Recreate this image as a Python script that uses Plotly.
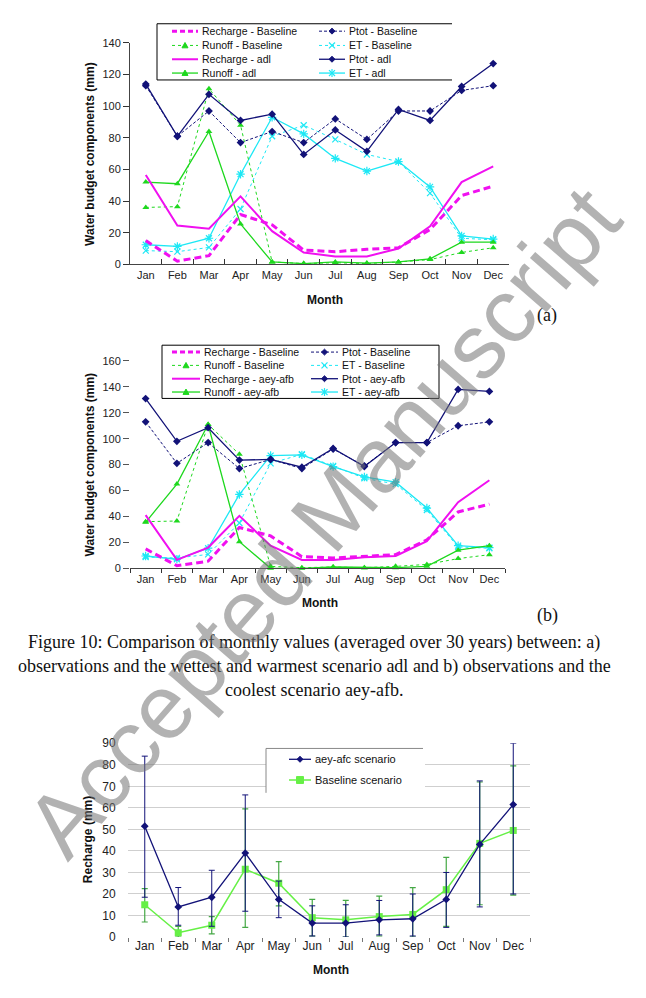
import plotly.graph_objects as go
import numpy as np

W, H = 646, 998
FONT = "Liberation Sans, Arial, sans-serif"
SERIF = "Liberation Serif, Times New Roman, serif"

months = ["Jan", "Feb", "Mar", "Apr", "May", "Jun", "Jul", "Aug", "Sep", "Oct", "Nov", "Dec"]

# ---- Baseline (observations) ----
recharge_baseline = [15, 2, 5.5, 31.5, 25, 9, 8, 9.5, 10.5, 22, 43.5, 49.5]
runoff_baseline = [36, 36.5, 111, 88, 1.5, 0.5, 1, 0.5, 1.5, 3, 7.5, 10.5]
ptot_baseline = [113, 81, 97, 77, 84, 77, 92, 79, 97, 97, 110, 113]
et_baseline = [8.7, 8, 10.7, 35, 81, 88, 79, 69.5, 65, 45, 16.5, 15.5]

# ---- Scenario adl ----
recharge_adl = [56.5, 24.5, 22.5, 43, 21, 7.5, 5, 5, 10, 24, 52, 62]
runoff_adl = [52, 51, 84, 25.5, 1.5, 0.5, 1.5, 0.8, 1.5, 3.5, 14, 14]
ptot_adl = [114, 81, 107.5, 91, 95, 69.5, 85, 71.5, 98, 91, 112.5, 127]
et_adl = [12.4, 11.3, 16.5, 57, 93, 82.5, 67, 59, 65, 49, 18, 16]

# ---- Scenario aey-afb ----
recharge_afb = [41, 6.5, 16, 40.5, 17.5, 6.5, 6.5, 8.5, 9.5, 21, 51, 68]
runoff_afb = [35.5, 65, 111, 20.5, 0, 0, 1, 0.5, 0.5, 1.5, 14, 17.5]
ptot_afb = [131, 98, 108.5, 83.5, 84, 78, 92.5, 78.5, 97, 97, 138, 136.5]
et_afb = [9.5, 7, 15.5, 57, 87, 87.5, 78.5, 70.5, 66.5, 46.5, 17.5, 16]

# ---- Recharge with ranges: aey-afc vs baseline ----
recharge_afc = [51.5, 14, 18.5, 39, 17.5, 6.5, 6.5, 8, 8.5, 17.5, 43, 61.5]
afc_high = [84, 23, 31, 66, 26, 14.5, 15, 17, 20, 30, 72.5, 90]
afc_low = [18.5, 5.5, 5, 12, 9, 0.5, 0, 1, 0.5, 4.5, 14, 20]
base_high = [22.5, 5, 9.5, 59.5, 35, 17.5, 17, 19, 23, 37, 72, 79.5]
base_low = [7, 0, 1.5, 4.5, 14.5, 0.5, 0, 0.5, 0, 5, 15, 19.5]

MAGENTA = "#F010F0"
GREEN = "#1ED81E"
NAVY = "#121278"
CYAN = "#1DE8F5"
LIME = "#66F046"
EGREEN = "#45A845"


def PX(v):
    return v / W


def PY(v):
    return 1 - v / H


fig = go.Figure()


def add_panel(xa, ya, scen, suffix):
    rec, run, pt, et = scen
    common = dict(x=months, xaxis=xa, yaxis=ya, showlegend=False, cliponaxis=False)
    fig.add_trace(go.Scatter(y=et_baseline, name="ET - Baseline", mode="lines+markers",
                             line=dict(color=CYAN, width=1, dash="dot"),
                             marker=dict(symbol="x-thin-open", size=6, color=CYAN, line=dict(width=1.2, color=CYAN)),
                             **common))
    fig.add_trace(go.Scatter(y=et, name="ET - " + suffix, mode="lines+markers",
                             line=dict(color=CYAN, width=1.3),
                             marker=dict(symbol="asterisk-open", size=7, color=CYAN, line=dict(width=1.2, color=CYAN)),
                             **common))
    fig.add_trace(go.Scatter(y=runoff_baseline, name="Runoff - Baseline", mode="lines+markers",
                             line=dict(color=GREEN, width=1, dash="dot"),
                             marker=dict(symbol="triangle-up", size=6, color=GREEN),
                             **common))
    fig.add_trace(go.Scatter(y=run, name="Runoff - " + suffix, mode="lines+markers",
                             line=dict(color=GREEN, width=1.3),
                             marker=dict(symbol="triangle-up", size=6, color=GREEN),
                             **common))
    fig.add_trace(go.Scatter(y=ptot_baseline, name="Ptot - Baseline", mode="lines+markers",
                             line=dict(color=NAVY, width=1, dash="3px,2px"),
                             marker=dict(symbol="diamond", size=6, color=NAVY),
                             **common))
    fig.add_trace(go.Scatter(y=pt, name="Ptot - " + suffix, mode="lines+markers",
                             line=dict(color=NAVY, width=1.3),
                             marker=dict(symbol="diamond", size=6, color=NAVY),
                             **common))
    fig.add_trace(go.Scatter(y=recharge_baseline, name="Recharge - Baseline", mode="lines",
                             line=dict(color=MAGENTA, width=3, dash="7px,4px"),
                             **common))
    fig.add_trace(go.Scatter(y=rec, name="Recharge - " + suffix, mode="lines",
                             line=dict(color=MAGENTA, width=2),
                             **common))


add_panel("x", "y", (recharge_adl, runoff_adl, ptot_adl, et_adl), "adl")
add_panel("x2", "y2", (recharge_afb, runoff_afb, ptot_afb, et_afb), "aey-afb")

# Panel (c)
afc = np.array(recharge_afc, dtype=float)
base = np.array(recharge_baseline, dtype=float)
fig.add_trace(go.Scatter(x=months, y=recharge_baseline, xaxis="x3", yaxis="y3", name="Baseline scenario",
                         mode="lines+markers", showlegend=False, cliponaxis=False,
                         line=dict(color=LIME, width=1.5),
                         marker=dict(symbol="square", size=7, color=LIME),
                         error_y=dict(type="data", symmetric=False,
                                      array=np.array(base_high) - base,
                                      arrayminus=base - np.array(base_low),
                                      color=EGREEN, thickness=1.2, width=3)))
fig.add_trace(go.Scatter(x=months, y=recharge_afc, xaxis="x3", yaxis="y3", name="aey-afc scenario",
                         mode="lines+markers", showlegend=False, cliponaxis=False,
                         line=dict(color=NAVY, width=1.3),
                         marker=dict(symbol="diamond", size=6, color=NAVY),
                         error_y=dict(type="data", symmetric=False,
                                      array=np.array(afc_high) - afc,
                                      arrayminus=afc - np.array(afc_low),
                                      color=NAVY, thickness=1, width=3)))

tickfont = dict(family=FONT, size=11, color="#222")
xbase = dict(type="category", range=[-0.5, 11.5], tickson="boundaries", showgrid=False,
             zeroline=False, tickfont=tickfont, fixedrange=True)

layout = dict(
    width=W, height=H, margin=dict(l=0, r=0, t=0, b=0),
    paper_bgcolor="white", plot_bgcolor="rgba(0,0,0,0)",
    showlegend=False,
    xaxis=dict(domain=[PX(130), PX(509)], anchor="y", ticks="inside", ticklen=5, tickcolor="#333",
               showline=True, linecolor="#444", linewidth=1, **xbase),
    yaxis=dict(domain=[PY(261), PY(36.5)], anchor="x", range=[0, 140], dtick=20, ticks="outside",
               ticklen=6, tickcolor="#333", showline=True, linecolor="#444", linewidth=1,
               showgrid=False, zeroline=False, tickfont=tickfont),
    xaxis2=dict(domain=[PX(130), PX(505)], anchor="y2", ticks="outside", ticklen=4, tickcolor="#333",
                showline=True, linecolor="#444", linewidth=1, **xbase),
    yaxis2=dict(domain=[PY(569.3), PY(359)], anchor="x2", range=[0, 160], dtick=20, ticks="outside",
                ticklen=6, tickcolor="#555", showline=False, showgrid=False, zeroline=False,
                tickfont=tickfont),
    xaxis3=dict(domain=[PX(128), PX(530)], anchor="y3", ticks="outside", ticklen=4, tickcolor="#777",
                showline=False, **dict(xbase, tickfont=dict(family=FONT, size=12, color="#222"))),
    yaxis3=dict(domain=[PY(943.3), PY(746.7)], anchor="x3", range=[0, 90], dtick=10, ticks="outside",
                ticklen=9, tickcolor="rgba(0,0,0,0)", showline=False, showgrid=True,
                gridcolor="#cfcfcf", gridwidth=1, zeroline=False,
                tickfont=dict(family=FONT, size=12, color="#222")),
)

shapes = []
annots = []


def ann(x, y, text, size=11, family=FONT, bold=False, angle=0, xanchor="center", color="#111"):
    annots.append(dict(x=PX(x), y=PY(y), xref="paper", yref="paper", text=("<b>%s</b>" % text) if bold else text,
                       showarrow=False, xanchor=xanchor, yanchor="middle", textangle=angle,
                       font=dict(family=family, size=size, color=color)))


def line(x0, y0, x1, y1, color="black", width=1, dash="solid"):
    shapes.append(dict(type="line", xref="paper", yref="paper", x0=PX(x0), y0=PY(y0), x1=PX(x1), y1=PY(y1),
                       line=dict(color=color, width=width, dash=dash), layer="above"))


def path(points, color, fill=True, closed=True, width=1):
    d = "M " + " L ".join("%.5f,%.5f" % (PX(a), PY(b)) for a, b in points)
    if closed:
        d += " Z"
    shapes.append(dict(type="path", xref="paper", yref="paper", path=d,
                       fillcolor=color if fill else "rgba(0,0,0,0)",
                       line=dict(color=color, width=width), layer="above"))


def marker(kind, cx, cy, color, r=3):
    if kind == "diamond":
        path([(cx, cy - r), (cx + r, cy), (cx, cy + r), (cx - r, cy)], color)
    elif kind == "triangle":
        path([(cx, cy - r), (cx + r, cy + r * 0.8), (cx - r, cy + r * 0.8)], color)
    elif kind == "square":
        path([(cx - r, cy - r), (cx + r, cy - r), (cx + r, cy + r), (cx - r, cy + r)], color)
    elif kind == "x":
        line(cx - r, cy - r, cx + r, cy + r, color, 1.2)
        line(cx - r, cy + r, cx + r, cy - r, color, 1.2)
    elif kind == "star":
        line(cx - r, cy - r, cx + r, cy + r, color, 1.2)
        line(cx - r, cy + r, cx + r, cy - r, color, 1.2)
        line(cx, cy - r - 1, cx, cy + r + 1, color, 1.2)


def legend_item(x0, x1, y, text, color, width, dash, mk, tx, size=10.5):
    line(x0, y, x1, y, color, width, dash)
    if mk:
        marker(mk, (x0 + x1) / 2, y, color)
    ann(tx, y, text, size=size, xanchor="left")


def water_legend(box, c1, c2, rows, suffix, right=False):
    bx0, by0, bx1, by1 = box
    shapes.append(dict(type="rect", xref="paper", yref="paper", x0=PX(bx0), y0=PY(by0), x1=PX(bx1), y1=PY(by1),
                       fillcolor="white", line=dict(width=0), layer="above"))
    line(bx0, by0, bx1, by0)
    line(bx0, by0, bx0, by1)
    line(bx0, by1, bx1, by1)
    if right:
        line(bx1, by0, bx1, by1)
    entries_left = [("Recharge - Baseline", MAGENTA, 3, "5px,3px", None),
                    ("Runoff - Baseline", GREEN, 1, "dot", "triangle"),
                    ("Recharge - " + suffix, MAGENTA, 2, "solid", None),
                    ("Runoff - " + suffix, GREEN, 1.3, "solid", "triangle")]
    entries_right = [("Ptot - Baseline", NAVY, 1, "3px,2px", "diamond"),
                     ("ET - Baseline", CYAN, 1, "dot", "x"),
                     ("Ptot - " + suffix, NAVY, 1.3, "solid", "diamond"),
                     ("ET - " + suffix, CYAN, 1.3, "solid", "star")]
    for (t, c, w, d, m), y in zip(entries_left, rows):
        legend_item(c1[0], c1[1], y, t, c, w, d, m, c1[1] + 2)
    for (t, c, w, d, m), y in zip(entries_right, rows):
        legend_item(c2[0], c2[1], y, t, c, w, d, m, c2[1] + 2)


water_legend((157, 17, 452, 74), (172, 198), (319, 345), [24.5, 39, 53, 67], "adl")
water_legend((162, 343, 439, 397), (172, 200), (311, 338), [350, 363.5, 377, 390.5], "aey-afb", right=True)

# Legend of panel (c)
shapes.append(dict(type="rect", xref="paper", yref="paper", x0=PX(266), y0=PY(752), x1=PX(425), y1=PY(797),
                   fillcolor="white", line=dict(width=0), layer="above"))
line(266, 752, 266, 797, "#888", 1)
line(266, 752, 423, 752, "#888", 1)
line(289, 763, 311, 763, NAVY, 1.3)
marker("diamond", 300, 763, NAVY)
ann(313, 763, "aey-afc scenario", size=11, xanchor="left")
line(289, 784, 311, 784, LIME, 1.5)
marker("square", 300, 784, LIME, r=3.5)
ann(313, 784, "Baseline scenario", size=11, xanchor="left")

# Axis titles
ann(90, 149, "Water budget components (mm)", size=12, bold=True, angle=-90)
ann(325, 297, "Month", size=12, bold=True)
ann(547, 313, "(a)", size=18, family=SERIF)
ann(90, 464, "Water budget components (mm)", size=12, bold=True, angle=-90)
ann(320, 604, "Month", size=12, bold=True)
ann(547, 617, "(b)", size=18, family=SERIF)
ann(88, 845, "Recharge (mm)", size=12, bold=True, angle=-90)
ann(331, 977, "Month", size=12, bold=True)

# Caption
ann(314, 645, "Figure 10: Comparison of monthly values (averaged over 30 years) between: a)", size=18, family=SERIF)
ann(314, 669, "observations and the wettest and warmest scenario adl and b) observations and the", size=18, family=SERIF)
ann(314, 693, "coolest scenario aey-afb.", size=18, family=SERIF)

# Watermark
ann(323, 522, "Accepted Manuscript", size=91, angle=-49, color="rgba(115,115,115,0.55)")

layout["shapes"] = shapes
layout["annotations"] = annots
fig.update_layout(**layout)
fig.write_html("out.html")
